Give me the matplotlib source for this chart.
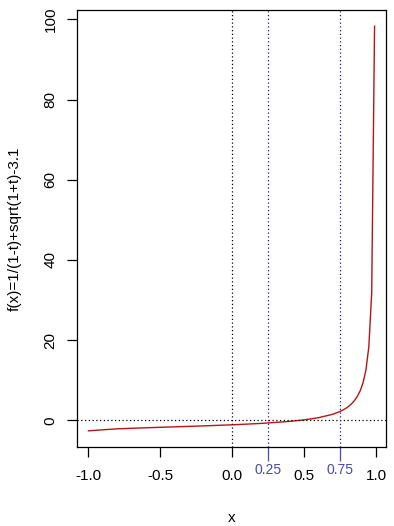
import matplotlib
matplotlib.use("Agg")
import matplotlib.pyplot as plt

plt.rcParams['font.family'] = ['Liberation Sans', 'DejaVu Sans']

# Values
x_vals = [-1.0, -0.8, -0.6, -0.4, -0.2, 0.0, 0.2, 0.4, 0.5, 0.6, 0.7, 0.7512,
          0.7711, 0.791, 0.8109, 0.8308, 0.8507, 0.8706, 0.8905, 0.9104,
          0.9303, 0.9502, 0.9701, 0.99]
y_vals = [-2.6, -2.10, -1.84, -1.61, -1.37, -1.1, -0.76, -0.25, 0.13, 0.67,
          1.54, 2.24, 2.60, 3.02, 3.53, 4.16, 4.96, 6.00, 7.41, 9.44,
          12.64, 18.38, 31.75, 98.3]
x_ticks = [-1.0, -0.5, 0.0, 0.5, 1.0]
x_tick_labels = ["-1.0", "-0.5", "0.0", "0.5", "1.0"]
y_ticks = [0, 20, 40, 60, 80, 100]
blue_marks = [0.25, 0.75]
blue_labels = ["0.25", "0.75"]

W, H = 394, 526
fig = plt.figure(figsize=(W / 100, H / 100), dpi=100)
left, right, top, bottom = 77, 386, 10, 447
ax = fig.add_axes([left / W, 1 - bottom / H, (right - left) / W, (bottom - top) / H])

xmin, xmax = min(x_vals), max(x_vals)
ymin, ymax = min(y_vals), max(y_vals)
dx, dy = (xmax - xmin) * 0.04, (ymax - ymin) * 0.04
ax.set_xlim(xmin - dx, xmax + dx)
ax.set_ylim(ymin - dy, ymax + dy)

ax.plot(x_vals, y_vals, color='#B81414', lw=1.0)

ax.axvline(0, color='black', ls=(0, (1, 2)), lw=0.9)
ax.axhline(0, color='black', ls=(0, (1, 2)), lw=0.9)
for v in blue_marks:
    ax.axvline(v, color='#1A1A70', ls=(0, (1, 2)), lw=0.9)

fs = 11
ax.set_xticks(x_ticks)
ax.set_xticklabels(x_tick_labels, fontsize=fs)
ax.set_xticks(blue_marks, minor=True)
ax.set_xticklabels(blue_labels, minor=True, fontsize=10)
ax.set_yticks(y_ticks)
ax.set_yticklabels([str(v) for v in y_ticks], fontsize=fs, rotation=90, va='center')
ax.tick_params(direction='out', length=7, width=0.9, colors='black')
ax.tick_params(axis='x', which='major', pad=9)
ax.tick_params(axis='x', which='minor', length=10, width=0.9, color='#4A4AA8',
               labelcolor='#4A4AA8', pad=1.5)
ax.tick_params(axis='y', pad=7)

for s in ax.spines.values():
    s.set_linewidth(0.9)

fig.text((left + right) / 2 / W, 1 - 522 / H, 'x', ha='center', va='baseline', fontsize=fs)
fig.text(15 / W, 1 - ((top + bottom) / 2) / H, 'f(x)=1/(1-t)+sqrt(1+t)-3.1',
         rotation=90, ha='center', va='center', fontsize=fs)

fig.savefig('out.png', dpi=100)
